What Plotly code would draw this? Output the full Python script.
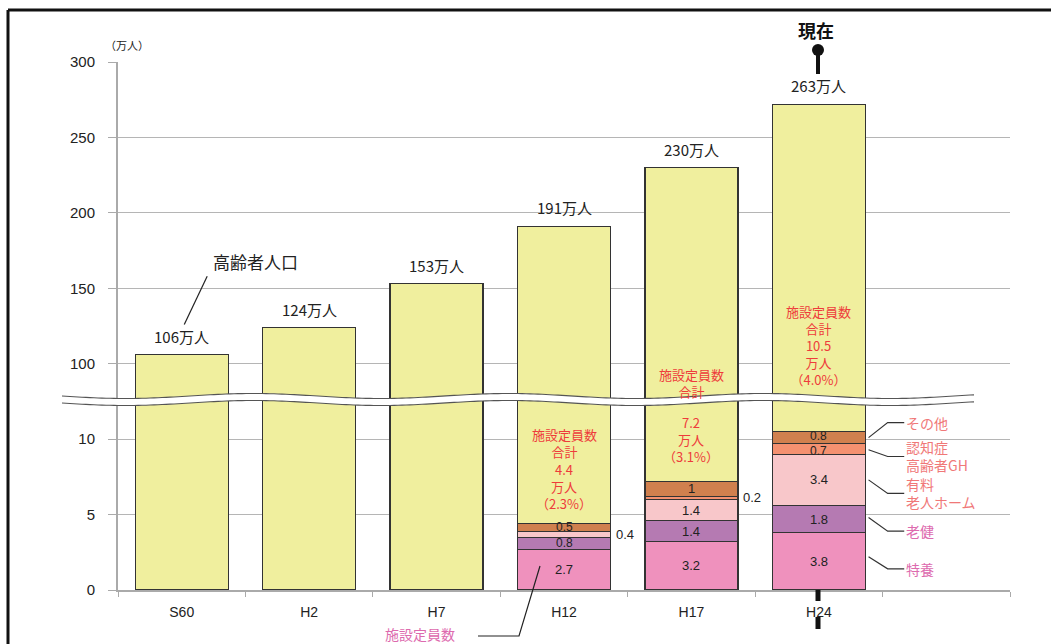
import math
import plotly.graph_objects as go

# ---------------- data ----------------
categories = ["S60", "H2", "H7", "H12", "H17", "H24"]
pop_bar = [106, 124, 153, 191, 230, 272]          # drawn bar heights (万人)
pop_label = [106, 124, 153, 191, 230, 263]        # printed labels (万人)
tokuyo = [0, 0, 0, 2.7, 3.2, 3.8]                 # 特養
roken = [0, 0, 0, 0.8, 1.4, 1.8]                  # 老健
yuryo = [0, 0, 0, 0.4, 1.4, 3.4]                  # 有料老人ホーム
gh = [0, 0, 0, 0.0, 0.2, 0.7]                     # 認知症高齢者GH
sonota = [0, 0, 0, 0.5, 1.0, 0.8]                 # その他
fac_total = ["", "", "", "4.4", "7.2", "10.5"]
fac_pct = ["", "", "", "2.3%", "3.1%", "4.0%"]
ytick_values = [0, 5, 10, 100, 150, 200, 250, 300]

# ---------------- helpers ----------------
def ty(v):
    """broken axis transform: 0-10 linear, 100-300 compressed by 10"""
    return v if v <= 12.5 else 15 + (v - 100) / 10.0

# plot-area pixel geometry (for decorations only)
L, R, T, B = 118, 1010, 62, 590
def px(x):
    return (x - L) / (R - L)
def py(y):
    return (B - y) / (B - T)

xs = list(range(len(categories)))
seg_colors = ["#EF91BD", "#B57AB2", "#F8C7CA", "#F49170", "#D0804E"]
yellow = "#F0EF9E"
edge = "#333333"
series = [tokuyo, roken, yuryo, gh, sonota]
names = ["特養", "老健", "有料老人ホーム", "認知症高齢者GH", "その他"]

fig = go.Figure()
for s, c, n in zip(series, seg_colors, names):
    fig.add_trace(go.Bar(x=xs, y=s, marker=dict(color=c, line=dict(color=edge, width=1.3)),
                         name=n, hoverinfo="skip"))
totals = [sum(v) for v in zip(*series)]
remainder = [ty(p) - t for p, t in zip(pop_bar, totals)]
fig.add_trace(go.Bar(x=xs, y=remainder,
                     marker=dict(color=yellow, line=dict(color=edge, width=1.3)),
                     name="高齢者人口", hoverinfo="skip"))

ann = []
font_j = "Noto Sans CJK JP"
# population labels
for i, (p, lab) in enumerate(zip(pop_bar, pop_label)):
    ann.append(dict(x=i, y=ty(p), text=f"{lab}万人", showarrow=False, yanchor="bottom",
                    yshift=6, font=dict(family=font_j, size=15, color="#222")))

# segment value labels
for i in range(len(categories)):
    base = 0
    prev_small = False
    for k, s in enumerate(series):
        v = s[i]
        if v > 0:
            mid = base + v / 2
            txt = f"{v:g}"
            if v < 0.45:
                ann.append(dict(x=i + 0.39, y=mid, text=txt, showarrow=False, xanchor="left",
                                font=dict(family="Liberation Sans", size=13, color="#222")))
            else:
                small = v < 1
                shift = 0
                if small and prev_small:
                    shift = 2
                elif small and k + 1 < len(series) and 0.45 <= series[k + 1][i] < 1:
                    shift = -2
                ann.append(dict(x=i, y=mid, text=txt, showarrow=False, yshift=shift,
                                font=dict(family="Liberation Sans", size=12 if small else 13,
                                          color="#222")))
            prev_small = 0.45 <= v < 1
        base += v

red = "#EE3B3B"
# facility totals (red text inside yellow bars)
ann.append(dict(x=3, y=9.75, text="施設定員数<br>合計", showarrow=False,
                font=dict(family=font_j, size=13, color=red)))
ann.append(dict(x=3, y=6.85, text=f"{fac_total[3]}<br>万人<br>（{fac_pct[3]}）", showarrow=False,
                font=dict(family=font_j, size=13, color=red)))
ann.append(dict(x=4, y=13.75, text="施設定員数<br>合計", showarrow=False,
                font=dict(family=font_j, size=13, color=red)))
ann.append(dict(x=4, y=10.0, text=f"{fac_total[4]}<br>万人<br>（{fac_pct[4]}）", showarrow=False,
                font=dict(family=font_j, size=13, color=red)))
ann.append(dict(x=5, y=16.2, text=f"施設定員数<br>合計<br>{fac_total[5]}<br>万人<br>（{fac_pct[5]}）",
                showarrow=False, font=dict(family=font_j, size=13, color=red)))

# right side legend labels with leader lines
salmon = "#F07878"
pinkm = "#DD6AAE"
leg = [
    ("特養", 1.4, 2.2, pinkm),
    ("老健", 3.9, 4.8, pinkm),
    ("有料<br>老人ホーム", 6.4, 7.3, salmon),
    ("認知症<br>高齢者GH", 8.85, 9.3, salmon),
    ("その他", 11.1, 10.1, salmon),
]
shapes = []
for txt, ly, sy, col in leg:
    shapes.append(dict(type="path", xref="x", yref="y",
                       path=f"M {5.39} {sy} L {5.54} {ly} L {5.67} {ly}",
                       line=dict(color="#333", width=1.2), layer="above"))
    ann.append(dict(x=5.67, y=ly, text=txt, showarrow=False, xanchor="left", align="left",
                    font=dict(family=font_j, size=14, color=col)))

# 高齢者人口 callout
ann.append(dict(x=0.58, y=21.75, text="高齢者人口", showarrow=False,
                font=dict(family=font_j, size=17, color="#222")))
shapes.append(dict(type="line", xref="x", yref="y", x0=0.2, y0=20.8, x1=0.02, y1=17.6,
                   line=dict(color="#222", width=1.2), layer="above"))

# unit label
ann.append(dict(x=px(127), y=py(45), xref="paper", yref="paper", text="（万人）", showarrow=False,
                xanchor="center", yanchor="middle",
                font=dict(family=font_j, size=11, color="#222")))

# 現在 marker
ann.append(dict(x=px(816), y=py(30), xref="paper", yref="paper", text="<b>現在</b>", showarrow=False,
                xanchor="center", yanchor="middle",
                font=dict(family=font_j, size=18, color="#111")))
shapes.append(dict(type="circle", xref="paper", yref="paper", x0=px(812), x1=px(824),
                   y0=py(56), y1=py(44), fillcolor="#111", line=dict(width=0), layer="above"))
shapes.append(dict(type="line", xref="paper", yref="paper", x0=px(818), x1=px(818),
                   y0=py(50), y1=py(74), line=dict(color="#111", width=4), layer="above"))
for y0, y1 in [(590, 601), (617, 629)]:
    shapes.append(dict(type="line", xref="paper", yref="paper", x0=px(818), x1=px(818),
                       y0=py(y0), y1=py(y1), line=dict(color="#111", width=5), layer="above"))

# 施設定員数 callout at bottom
ann.append(dict(x=px(420), y=py(634), xref="paper", yref="paper", text="施設定員数", showarrow=False,
                xanchor="center", yanchor="middle",
                font=dict(family=font_j, size=14, color=pinkm)))
shapes.append(dict(type="path", xref="paper", yref="paper",
                   path=f"M {px(478)} {py(636)} L {px(519)} {py(636)} L {px(540)} {py(566)}",
                   line=dict(color="#222", width=1.2), layer="above"))

# axis break (wavy white band)
wx = list(range(62, 977, 4))
top = [396 + 2.5 * math.sin(2 * math.pi * (x - 62) / 255.0) for x in wx]
bot = [t + 7 for t in top]
fill = "M " + " L ".join(f"{px(x)} {py(y)}" for x, y in zip(wx, top))
fill += " L " + " L ".join(f"{px(x)} {py(y)}" for x, y in zip(reversed(wx), reversed(bot))) + " Z"
shapes.append(dict(type="path", xref="paper", yref="paper", path=fill, fillcolor="white",
                   line=dict(width=0), layer="above"))
for curve in (top, bot):
    p = "M " + " L ".join(f"{px(x)} {py(y)}" for x, y in zip(wx, curve))
    shapes.append(dict(type="path", xref="paper", yref="paper", path=p,
                       line=dict(color="#555", width=1.1), layer="above"))

# outer frame (left and top edges)
shapes.append(dict(type="line", xref="paper", yref="paper", x0=px(8), x1=px(8), y0=py(10), y1=py(700),
                   line=dict(color="#111", width=3), layer="above"))
shapes.append(dict(type="line", xref="paper", yref="paper", x0=px(8), x1=px(1060), y0=py(10), y1=py(10),
                   line=dict(color="#111", width=3), layer="above"))

fig.update_layout(
    barmode="stack",
    bargap=0.27,
    width=1051, height=644,
    margin=dict(l=L, r=1051 - R, t=T, b=644 - B),
    paper_bgcolor="white", plot_bgcolor="white",
    showlegend=False,
    annotations=ann,
    shapes=shapes,
    xaxis=dict(range=[-0.5, 6.5], tickmode="array", tickvals=xs, ticktext=categories,
               ticks="", showgrid=False, zeroline=False, showline=True, linecolor="#aaa", linewidth=1.5,
               ticklabelstandoff=8,
               tickfont=dict(family="Liberation Sans", size=14, color="#222"),
               minor=dict(tickmode="array", tickvals=[i + 0.5 for i in range(-1, 7)], ticks="outside",
                          ticklen=5, tickcolor="#aaa", showgrid=False)),
    yaxis=dict(range=[0, 35], tickmode="array", tickvals=[ty(v) for v in ytick_values],
               ticktext=[str(v) for v in ytick_values], showgrid=True, gridcolor="#b5b5b5", gridwidth=1,
               zeroline=False, showline=True, linecolor="#aaa", linewidth=2,
               ticks="outside", ticklen=8, tickcolor="#aaa", ticklabelstandoff=10,
               tickfont=dict(family="Liberation Sans", size=15, color="#222")),
)

fig.write_html("out.html")
